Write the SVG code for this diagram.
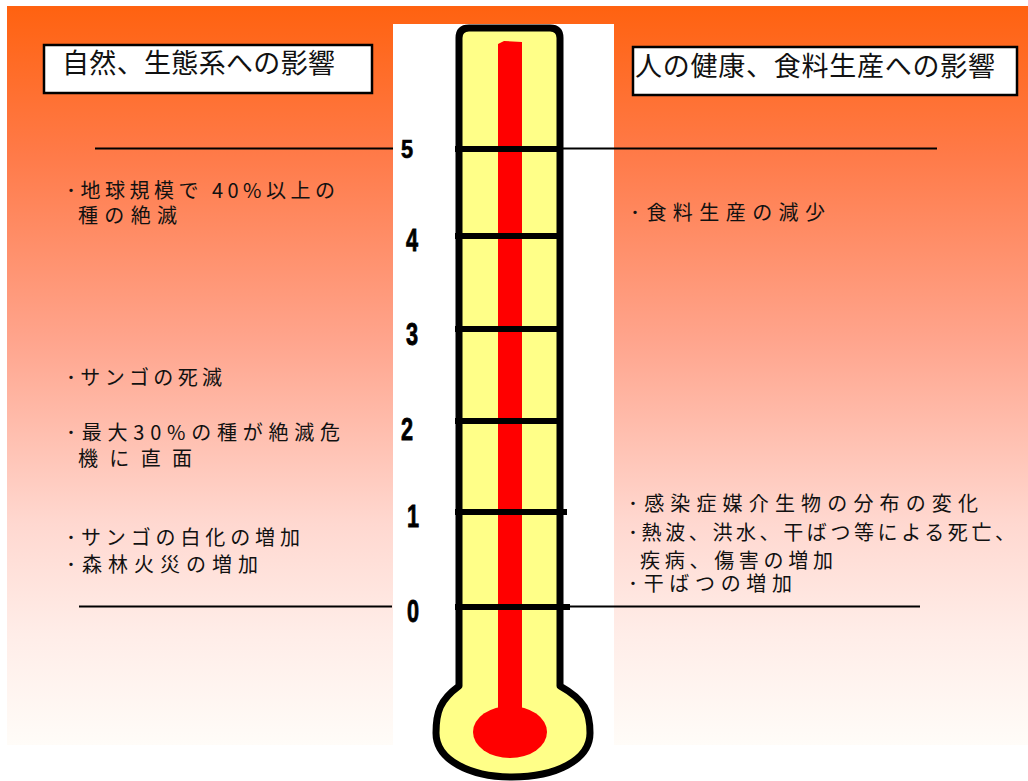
<svg xmlns="http://www.w3.org/2000/svg" width="1028" height="781" viewBox="0 0 1028 781">
  <defs>
    <linearGradient id="bg" x1="0" y1="0" x2="0" y2="1">
      <stop offset="0" stop-color="#FF6210"/>
      <stop offset="0.2" stop-color="#FF7A48"/>
      <stop offset="0.45" stop-color="#FFA48C"/>
      <stop offset="0.7" stop-color="#FFD8D0"/>
      <stop offset="0.85" stop-color="#FFEDE8"/>
      <stop offset="1" stop-color="#FFFCF8"/>
    </linearGradient>
    <style>
      .hdr { fill: #FFFFFF; stroke: #000000; stroke-width: 2.5; }
      .hdrtxt { font-family: "Noto Sans CJK JP", "Noto Sans", sans-serif; font-size: 27px; fill: #111111; }
      .body { font-family: "Noto Sans CJK JP", "Noto Sans", sans-serif; font-size: 20px; fill: #111111; }
      .num { font-family: "Liberation Sans", "DejaVu Sans", sans-serif; font-weight: bold; font-size: 31px; fill: #000000; stroke: #000000; stroke-width: 0.8; }
      .thin { stroke: #000000; stroke-width: 2; fill: none; }
      .tick { stroke: #000000; stroke-width: 6; fill: none; }
    </style>
  </defs>

  <!-- page background -->
  <rect x="0" y="0" width="1028" height="781" fill="#FFFFFF"/>
  <rect x="7" y="6" width="1021" height="739" fill="url(#bg)"/>

  <!-- white panel behind the thermometer -->
  <rect x="393" y="24" width="221" height="757" fill="#FFFFFF"/>

  <!-- horizontal reference lines at 5 and 0 -->
  <g id="connectors">
    <line class="thin" x1="95" y1="148.5" x2="393" y2="148.5"/>
    <line class="thin" x1="563" y1="148.5" x2="937" y2="148.5"/>
    <line class="thin" x1="79" y1="606.5" x2="392" y2="606.5"/>
    <line class="thin" x1="565" y1="606.5" x2="920" y2="606.5"/>
  </g>

  <!-- thermometer -->
  <g id="thermometer">
    <path d="M 459,686 C 440,700 436,712 436,733 C 436,760 470,777 512,777 C 556,777 590,760 590,733 C 590,712 585,700 560,686 L 560,38 Q 560,28 550,28 L 469,28 Q 459,28 459,38 Z"
          fill="#FFFF88" stroke="#000000" stroke-width="7" stroke-linejoin="round"/>
    <path d="M 498,44 L 504,41 L 522,42 L 522,715 L 498,715 Z" fill="#FF0000"/>
    <ellipse cx="510" cy="732" rx="37" ry="26" fill="#FF0000"/>
    <line class="tick" x1="455" y1="149" x2="563" y2="149"/>
    <line class="tick" x1="455" y1="236" x2="563" y2="236"/>
    <line class="tick" x1="455" y1="329" x2="563" y2="329"/>
    <line class="tick" x1="455" y1="421" x2="563" y2="421"/>
    <line class="tick" x1="455" y1="512" x2="567" y2="512"/>
    <line class="tick" x1="455" y1="607" x2="570" y2="607"/>
  </g>

  <!-- scale numbers -->
  <g id="scale">
    <text class="num" text-anchor="middle" transform="translate(407,158) scale(0.7,0.85)">5</text>
    <text class="num" text-anchor="middle" transform="translate(412,251) scale(0.7,1)">4</text>
    <text class="num" text-anchor="middle" transform="translate(412,345) scale(0.7,1)">3</text>
    <text class="num" text-anchor="middle" transform="translate(407,440) scale(0.7,1)">2</text>
    <text class="num" text-anchor="middle" transform="translate(413,527) scale(0.7,1)">1</text>
    <text class="num" text-anchor="middle" transform="translate(413,622) scale(0.7,1)">0</text>
  </g>

  <!-- left header -->
  <g id="header-nature">
    <rect class="hdr" x="44" y="45" width="328" height="48"/>
    <text class="hdrtxt" x="62" y="73" textLength="273" lengthAdjust="spacing">自然、生態系への影響</text>
  </g>

  <!-- right header -->
  <g id="header-human">
    <rect class="hdr" x="633" y="47" width="384" height="48"/>
    <text class="hdrtxt" x="635" y="76" textLength="360" lengthAdjust="spacing">人の健康、食料生産への影響</text>
  </g>

  <!-- impacts on nature and ecosystems -->
  <g id="nature-impacts">
    <text class="body" x="66" y="198" textLength="269" lengthAdjust="spacing">･地球規模で 40%以上の</text>
    <text class="body" x="78" y="223" textLength="99" lengthAdjust="spacing">種の絶滅</text>
    <text class="body" x="66" y="385" textLength="156" lengthAdjust="spacing">･サンゴの死滅</text>
    <text class="body" x="66" y="440" textLength="274" lengthAdjust="spacing">･最大30%の種が絶滅危</text>
    <text class="body" x="78" y="466" textLength="114" lengthAdjust="spacing">機に直面</text>
    <text class="body" x="66" y="545" textLength="234" lengthAdjust="spacing">･サンゴの白化の増加</text>
    <text class="body" x="66" y="572" textLength="192" lengthAdjust="spacing">･森林火災の増加</text>
  </g>

  <!-- impacts on human health and food production -->
  <g id="human-impacts">
    <text class="body" x="630" y="220" textLength="195" lengthAdjust="spacing">･食料生産の減少</text>
    <text class="body" x="628" y="511" textLength="350" lengthAdjust="spacing">･感染症媒介生物の分布の変化</text>
    <text class="body" x="628" y="540" textLength="387" lengthAdjust="spacing">･熱波、洪水、干ばつ等による死亡、</text>
    <text class="body" x="640" y="568" textLength="193" lengthAdjust="spacing">疾病、傷害の増加</text>
    <text class="body" x="628" y="591" textLength="164" lengthAdjust="spacing">･干ばつの増加</text>
  </g>
</svg>
